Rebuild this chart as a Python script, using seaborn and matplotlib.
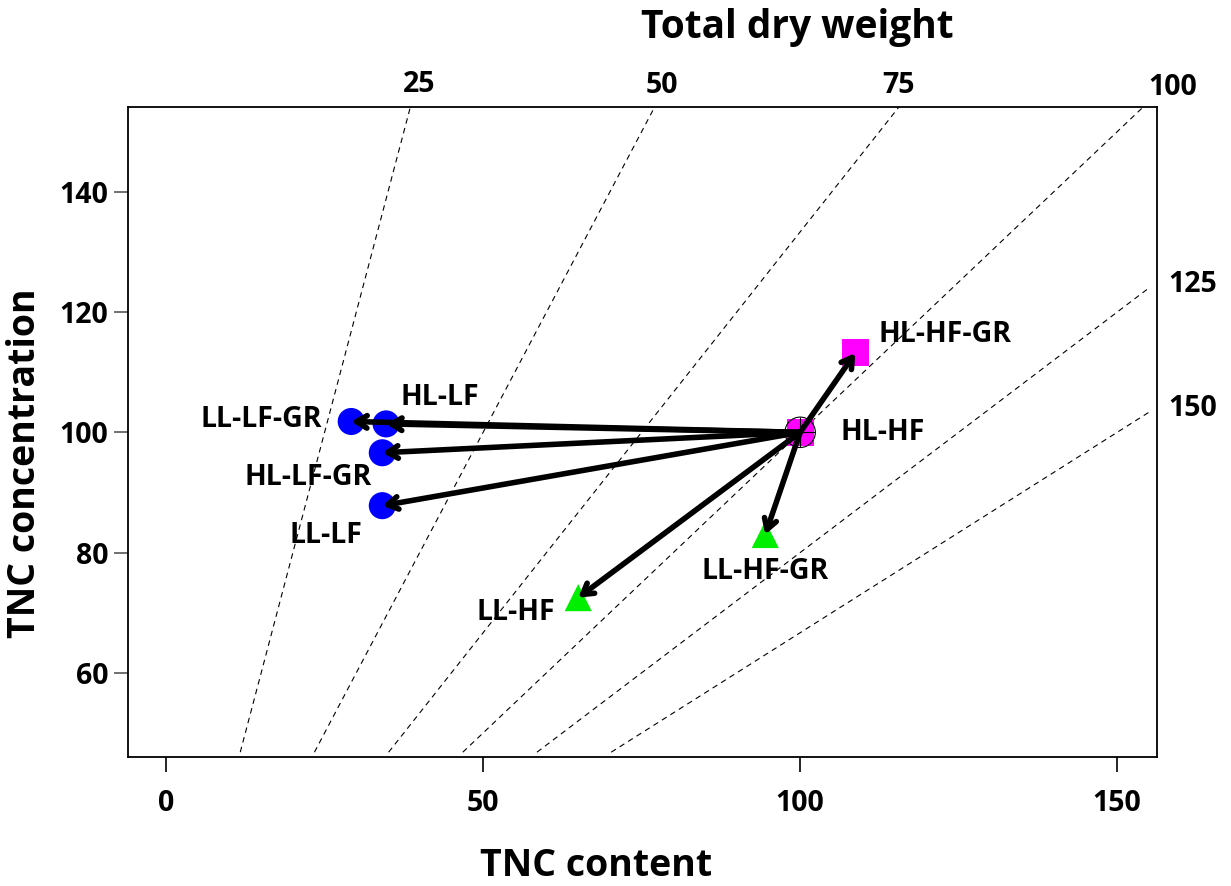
import numpy as np
import pandas as pd
import matplotlib
matplotlib.use('Agg')
import matplotlib.pyplot as plt
import seaborn as sns

# ── data ──────────────────────────────────────────────────────────────────────
treatments = ['HL-HF', 'HL-HF-GR', 'HL-LF', 'HL-LF-GR',
              'LL-LF', 'LL-LF-GR', 'LL-HF', 'LL-HF-GR']
tnc_content = [100.0, 108.7, 34.7, 34.1, 34.1, 29.2, 65.0, 94.5]
tnc_conc    = [100.0, 113.2, 101.4, 96.6, 87.8, 101.8, 72.5, 83.0]
group       = ['HF-HL', 'HF-HL', 'LF', 'LF', 'LF', 'LF', 'HF-LL', 'HF-LL']

dry_weights = [25, 50, 75, 100, 125, 150]
top_labels   = ['25', '50', '75', '100']
right_labels = ['125', '150']

x_ticks = [0, 50, 100, 150]
y_ticks = [60, 80, 100, 120, 140]

# label offsets (content, conc) relative to point, and alignment
label_off = {
    'HL-HF':    (6.3, 0.0, 'left'),
    'HL-HF-GR': (3.6, 3.0, 'left'),
    'HL-LF':    (2.2, 4.4, 'left'),
    'HL-LF-GR': (-1.6, -4.1, 'right'),
    'LL-LF':    (-3.2, -5.0, 'right'),
    'LL-LF-GR': (-4.6, 0.3, 'right'),
    'LL-HF':    (-3.6, -2.4, 'right'),
    'LL-HF-GR': (0.0, -6.2, 'center'),
}

df = pd.DataFrame({'treatment': treatments, 'content': tnc_content,
                   'conc': tnc_conc, 'group': group})

# isolines of total dry weight: content = conc * weight / 100
ymin_line, ymax_line, xmax_line = 46.8, 154.1, 155.0
rows = []
for w in dry_weights:
    c_hi = min(ymax_line, xmax_line * 100.0 / w)
    for c in (ymin_line, c_hi):
        rows.append({'weight': w, 'conc': c, 'content': c * w / 100.0})
iso = pd.DataFrame(rows)

# ── plot ──────────────────────────────────────────────────────────────────────
sns.set_style('white')
plt.rcParams['font.family'] = ['Open Sans', 'DejaVu Sans']
plt.rcParams['font.weight'] = 'bold'
for k in ('text.color', 'axes.labelcolor', 'xtick.color', 'ytick.color'):
    plt.rcParams[k] = 'black'

fig = plt.figure(figsize=(12.31, 8.86), dpi=100)
ax = fig.add_axes([0.104, 0.1456, 0.836, 0.7336])

sns.lineplot(data=iso, x='content', y='conc', units='weight', estimator=None,
             sort=False, color='black', lw=0.8, linestyle=(0, (5, 4)), ax=ax)

# arrows from HL-HF to every other treatment
origin = (tnc_content[0], tnc_conc[0])
for xc, yc in zip(tnc_content[1:], tnc_conc[1:]):
    ax.annotate('', xy=(xc, yc), xytext=origin,
                arrowprops=dict(arrowstyle='->,head_length=0.75,head_width=0.45',
                                lw=4, color='black', shrinkA=0, shrinkB=0),
                zorder=4)

sns.scatterplot(data=df, x='content', y='conc', hue='group', style='group',
                palette={'HF-HL': '#FF00FF', 'LF': '#0000FF', 'HF-LL': '#00EE00'},
                markers={'HF-HL': 's', 'LF': 'o', 'HF-LL': '^'},
                s=380, linewidth=0, legend=False, zorder=3, ax=ax)
# open circle + cross on HL-HF
ax.scatter([origin[0]], [origin[1]], s=480, facecolors='none',
           edgecolors='black', linewidths=0.8, zorder=5)
ax.scatter([origin[0]], [origin[1]], s=480, marker='+', color='black',
           linewidths=0.8, zorder=5)

for t, xc, yc in zip(treatments, tnc_content, tnc_conc):
    dx, dy, ha = label_off[t]
    ax.text(xc + dx, yc + dy, t, ha=ha, va='center', fontsize=20.5,
            fontweight='bold')

# weight labels (text positions above / right of the frame)
top_label_x = [39.9, 78.2, 115.5, 158.7]
top_label_y = [157.8, 157.6, 157.6, 157.3]
for lab, tx, ty in zip(top_labels, top_label_x, top_label_y):
    ax.text(tx, ty, lab, ha='center', va='center',
            fontsize=20.5, fontweight='bold', clip_on=False)
for w, lab in zip(dry_weights[4:], right_labels):
    ax.text(158.0, xmax_line * 100.0 / w + 0.6, lab, ha='left', va='center',
            fontsize=20.5, fontweight='bold', clip_on=False)

ax.set_xlim(-6, 156.3)
ax.set_ylim(46, 154.1)
ax.set_xticks(x_ticks)
ax.set_yticks(y_ticks)
ax.tick_params(axis='x', direction='out', length=11, width=1.2, pad=12,
               labelsize=20.5, bottom=True)
ax.tick_params(axis='y', direction='out', length=10, width=1.2, pad=4,
               labelsize=20.5, left=True, color='0.35')
for lab in ax.get_xticklabels() + ax.get_yticklabels():
    lab.set_fontweight('bold')
for sp in ax.spines.values():
    sp.set_color('black')
    sp.set_linewidth(1.3)

ax.set_xlabel('TNC content', fontsize=27, fontweight='bold')
ax.xaxis.set_label_coords(0.455, -0.168)
ax.xaxis.label.set_va('center')
ax.set_ylabel('TNC concentration', fontsize=27, fontweight='bold')
ax.yaxis.set_label_coords(-0.1, 0.452)
ax.yaxis.label.set_va('center')
ax.text(0.650, 1.123, 'Total dry weight', transform=ax.transAxes,
        ha='center', va='center', fontsize=28, fontweight='bold')

fig.savefig('out.png', dpi=100)
